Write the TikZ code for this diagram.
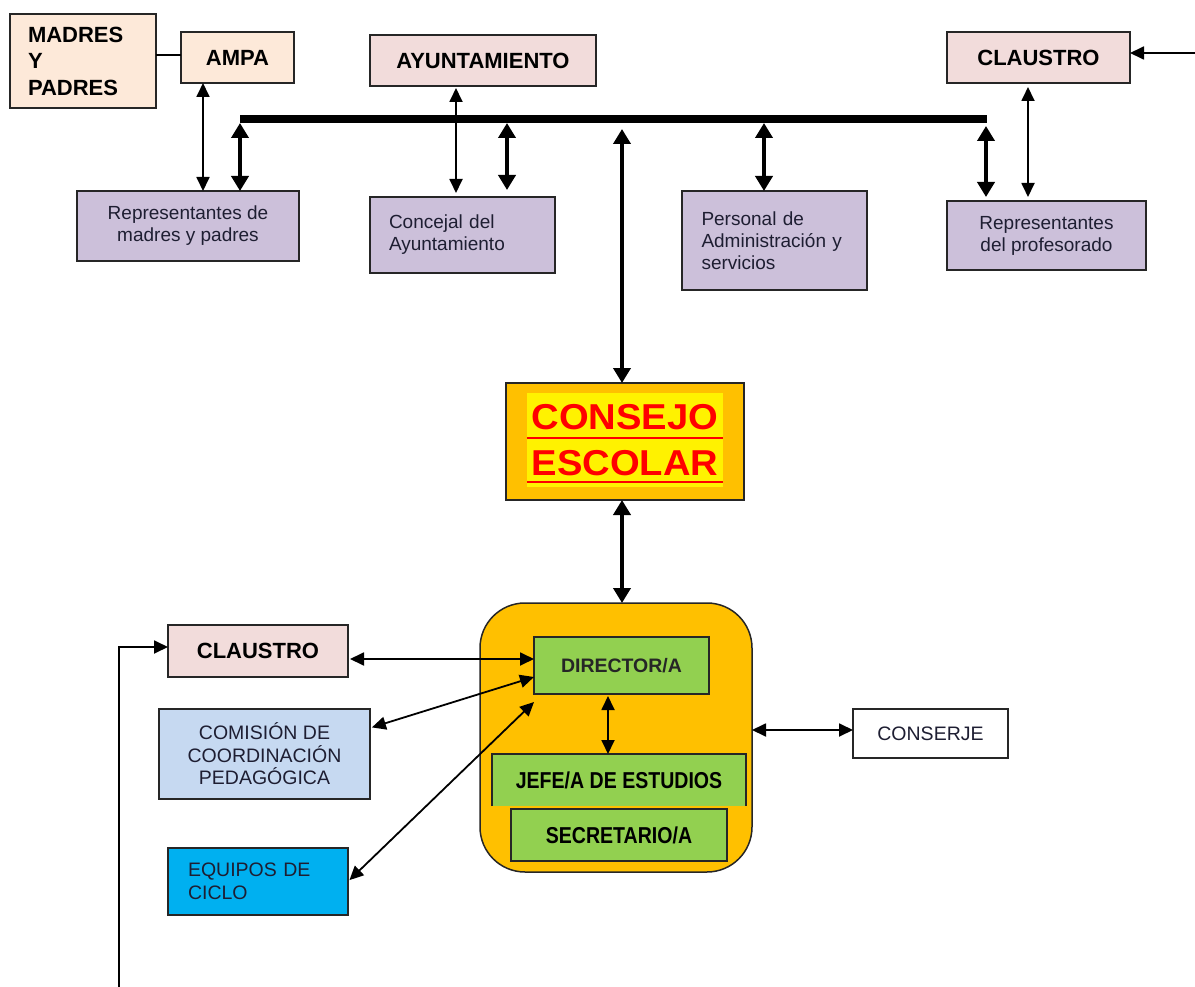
\documentclass[tikz,border=0pt]{standalone}
\usepackage{fontspec}
\setmainfont{Liberation Sans}
\usetikzlibrary{arrows.meta}
\definecolor{peach}{HTML}{FDE9D9}
\definecolor{pinkc}{HTML}{F2DCDB}
\definecolor{lav}{HTML}{CCC0DA}
\definecolor{orng}{HTML}{FFC000}
\definecolor{grn}{HTML}{92D050}
\definecolor{lblue}{HTML}{C6D9F1}
\definecolor{cyanb}{HTML}{00B0F0}
\definecolor{bord}{HTML}{262626}
\definecolor{txt}{HTML}{1E1E32}
\tikzset{
 box/.style={draw=bord, line width=1.5pt, inner sep=0pt, outer sep=0pt},
 boldtxt/.style={font=\fontsize{22}{26.5}\selectfont\bfseries},
 regtxt/.style={font=\fontsize{19}{22}\selectfont, text=txt},
 captxt/.style={font=\fontsize{19.5}{22.5}\selectfont, text=txt},
 thinarr/.style={line width=1.8pt, arrows={Triangle[length=14pt,width=13pt]-Triangle[length=14pt,width=13pt]}},
 onearr/.style={line width=1.8pt, arrows={-Triangle[length=14pt,width=13pt]}},
 thickarr/.style={line width=4.5pt, arrows={Triangle[length=15pt,width=17pt]-Triangle[length=15pt,width=17pt]}},
}
\begin{document}
\begin{tikzpicture}[x=1pt,y=-1pt]
\useasboundingbox (0,0) rectangle (1195,987);
\fill[white] (0,0) rectangle (1195,987);

% top row
\node[box, fill=peach, minimum width=146pt, minimum height=94pt, boldtxt, align=left, text width=110pt] (madres) at (83,61) {MADRES\\Y\\PADRES};
\node[box, fill=peach, minimum width=113pt, minimum height=51pt, boldtxt] (ampa) at (237.5,57.5) {AMPA};
\node[box, fill=pinkc, minimum width=226pt, minimum height=51pt, boldtxt] (ayunt) at (483,60.5) {AYUNTAMIENTO};
\node[box, fill=pinkc, minimum width=183pt, minimum height=51pt, boldtxt] (claus1) at (1038.5,57.5) {CLAUSTRO};

% representatives
\node[box, fill=lav, minimum width=222pt, minimum height=70pt, regtxt, align=center] (repmp) at (188,226) {Representantes de\\madres y padres};
\node[box, fill=lav, minimum width=185pt, minimum height=76pt, regtxt, align=left, text width=147pt] (concejal) at (462.5,235) {Concejal del\\Ayuntamiento};
\node[box, fill=lav, minimum width=185pt, minimum height=99pt, regtxt, align=left, text width=146pt] (personal) at (774.5,240.5) {Personal de\\Administración y\\servicios};
\node[box, fill=lav, minimum width=199pt, minimum height=69pt, regtxt, align=center] (repprof) at (1046.5,235.5) {Representantes\\del profesorado};

% consejo escolar
\node[box, fill=orng, minimum width=238pt, minimum height=117pt] (consejo) at (625,441.5) {};
\node[fill=yellow, inner sep=0pt, minimum width=196pt, minimum height=94pt, text=red, align=center, font=\fontsize{36}{46}\selectfont\bfseries] (contxt) at (625,440) {\scalebox{1.06}[1]{CONSEJO}\\\scalebox{1.06}[1]{ESCOLAR}};
\draw[red, line width=2pt] ([yshift=2.3pt]contxt.west) -- ([yshift=2.3pt]contxt.east);
\draw[red, line width=2pt] ([yshift=-41.7pt]contxt.west) -- ([yshift=-41.7pt]contxt.east);

% management team
\node[box, fill=orng, rounded corners=45pt, minimum width=272pt, minimum height=269pt] (mgmt) at (616,737.5) {};
\node[box, fill=grn, minimum width=175pt, minimum height=57pt, font=\fontsize{19.5}{22}\selectfont\bfseries, text=black!85] (director) at (621.5,665.5) {DIRECTOR/A};
\node[fill=grn, inner sep=0pt, outer sep=0pt, minimum width=254pt, minimum height=52pt] (jefe) at (619,780) {\scalebox{0.85}[1]{\fontsize{23}{26}\selectfont\bfseries JEFE/A DE ESTUDIOS}};
\draw[bord, line width=1.5pt] (jefe.south west) -- (jefe.north west) -- (jefe.north east) -- (jefe.south east);
\node[box, fill=grn, minimum width=216pt, minimum height=52pt] (secre) at (619,835) {\scalebox{0.85}[1]{\fontsize{23}{26}\selectfont\bfseries SECRETARIO/A}};

% bottom left
\node[box, fill=pinkc, minimum width=180pt, minimum height=52pt, boldtxt] (claus2) at (258,651) {CLAUSTRO};
\node[box, fill=lblue, minimum width=211pt, minimum height=90pt, captxt, align=center] (comision) at (264.5,754) {COMISIÓN DE\\COORDINACIÓN\\PEDAGÓGICA};
\node[box, fill=cyanb, minimum width=180pt, minimum height=67pt, captxt, align=left, text width=140pt] (equipos) at (258,881.5) {EQUIPOS DE\\CICLO};
\node[box, fill=white, minimum width=155pt, minimum height=49pt, captxt] (conserje) at (930.5,733.5) {CONSERJE};

% bus
\coordinate (busL) at (240,119);
\coordinate (b2) at (507,119);
\coordinate (b3) at (622,119);
\coordinate (b4) at (764,119);
\coordinate (busR) at (987,119);
\coordinate (b5) at (986,119);
\draw[line width=8pt] (busL) -- (busR);

\draw[thickarr] ([yshift=-4pt]busL) -- (busL |- repmp.north);
\draw[thickarr, shorten >=7pt] ([yshift=-4pt]b2) -- (b2 |- concejal.north);
\draw[thickarr] ([yshift=-10pt]b3) -- (b3 |- consejo.north);
\draw[thickarr] ([yshift=-4pt]b4) -- (b4 |- personal.north);
\draw[thickarr, shorten >=4pt] ([yshift=-7pt]b5) -- (b5 |- repprof.north);

% thin top connectors
\draw[line width=1.2pt] ([yshift=2.5pt]ampa.west) -- ([yshift=2.5pt]ampa.west -| madres.east);
\draw[thinarr] ([xshift=-34.5pt]ampa.south) -- ([xshift=15pt]repmp.north);
\draw[thinarr, shorten <=2pt, shorten >=4pt] ([xshift=-27pt]ayunt.south) -- ([xshift=-6.5pt]concejal.north);
\draw[thinarr, shorten <=4pt, shorten >=4pt] ([xshift=-10.5pt]claus1.south) -- ([xshift=-18.5pt]repprof.north);
\coordinate (rin) at (1195,53);
\draw[onearr] (rin) -- (rin -| claus1.east);

% consejo to team
\draw[thickarr] ([xshift=-3pt]consejo.south) -- ([xshift=-3pt]consejo.south |- mgmt.north);
\draw[thinarr, shorten <=2pt] ([xshift=-13.5pt]director.south) -- ([xshift=-13.5pt]director.south |- jefe.north);

% bottom connectors
\coordinate (lb) at (119,987);
\draw[onearr] (lb) |- ([yshift=4pt]claus2.west);
\draw[thinarr, shorten <=2pt] ([yshift=-8pt]claus2.east) -- ([yshift=-8pt]claus2.east -| director.west);
\draw[thinarr, shorten <=2pt] ([yshift=26pt]comision.east) -- ([yshift=-11.5pt]director.west);
\draw[thinarr, shorten <=2pt] (equipos.east) -- ([yshift=-8pt]director.south west);
\draw[thinarr] ([yshift=7.5pt]mgmt.east) -- ([yshift=7.5pt]mgmt.east -| conserje.west);
\end{tikzpicture}
\end{document}
